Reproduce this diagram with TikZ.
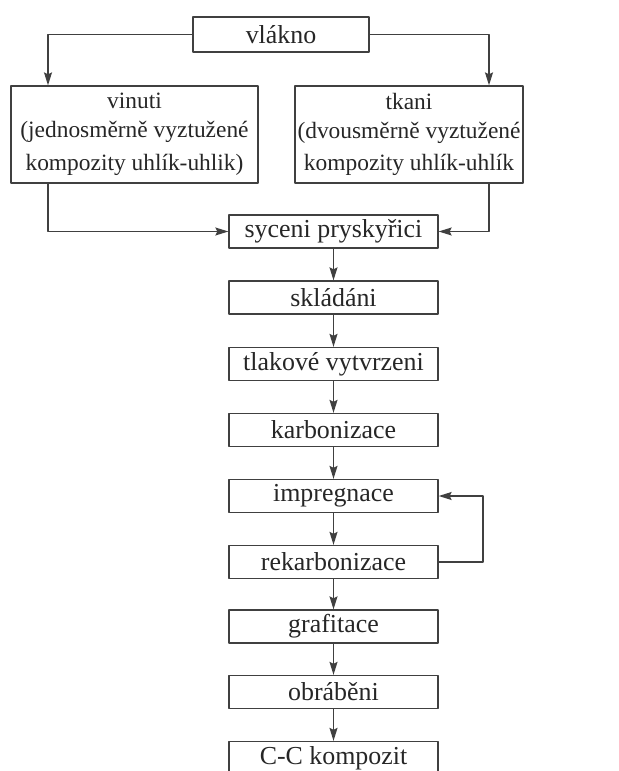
\documentclass[tikz,border=0pt]{standalone}
\usepackage{fontspec}
\setmainfont{Liberation Serif}
\usetikzlibrary{arrows.meta}
\tikzset{
  krok/.style={draw,line width=1.3bp,minimum width=209bp,minimum height=33bp,inner sep=0pt,font=\fontsize{26}{30}\selectfont},
  vetev/.style={draw,line width=1.3bp,minimum height=97bp,inner sep=0pt,align=center,font=\fontsize{23.5}{33}\selectfont},
}
\begin{document}
\begin{tikzpicture}[x=1bp,y=-1bp,>={Stealth[length=13bp,width=8bp,inset=2bp]},line width=1.3bp,line join=round,draw=black!75,text=black!85]
			\useasboundingbox (0,0) rectangle (619,771);
			\node[krok,minimum width=176bp,minimum height=35bp] (vlakno) at (281,34.5) {vlákno};
			\node[vetev,minimum width=247bp] (vinuti) at (134.5,134.5) {\raisebox{-4bp}{vinuti}\\(jednosměrně vyztužené\\kompozity uhlík-uhlik)};
			\node[vetev,minimum width=228bp] (tkani) at (409,134.5) {\raisebox{-4bp}{tkani}\\(dvousměrně vyztužené\\kompozity uhlík-uhlík};
			\node[krok] (syc) at (333.5,231.5) {syceni pryskyřici};
			\node[krok] (skl) at (333.5,297.5) {skládáni};
			\node[krok] (tlak) at (333.5,364) {tlakové vytvrzeni};
			\node[krok] (karb) at (333.5,430) {karbonizace};
			\node[krok] (imp) at (333.5,496) {impregnace};
			\node[krok] (rek) at (333.5,562) {rekarbonizace};
			\node[krok] (graf) at (333.5,626.5) {grafitace};
			\node[krok] (obr) at (333.5,692) {obráběni};
			\node[krok] (cc) at (333.5,758) {C-C kompozit};
			\coordinate (vl) at (48,0);
			\coordinate (vr) at (489,0);
			\coordinate (sm) at (483,0);
			\draw[->] (vlakno.west) -| (vl |- vinuti.north);
			\draw[->] (vlakno.east) -| (vr |- tkani.north);
			\draw[->] (vl |- vinuti.south) |- (syc.west);
			\draw[->] (vr |- tkani.south) |- (syc.east);
			\draw[->] (syc) -- (skl);
			\draw[->] (skl) -- (tlak);
			\draw[->] (tlak) -- (karb);
			\draw[->] (karb) -- (imp);
			\draw[->] (imp) -- (rek);
			\draw[->] (rek) -- (graf);
			\draw[->] (graf) -- (obr);
			\draw[->] (obr) -- (cc);
			\draw[->] (rek.east) -- (sm |- rek.east) |- (imp.east);
\end{tikzpicture}
\end{document}
